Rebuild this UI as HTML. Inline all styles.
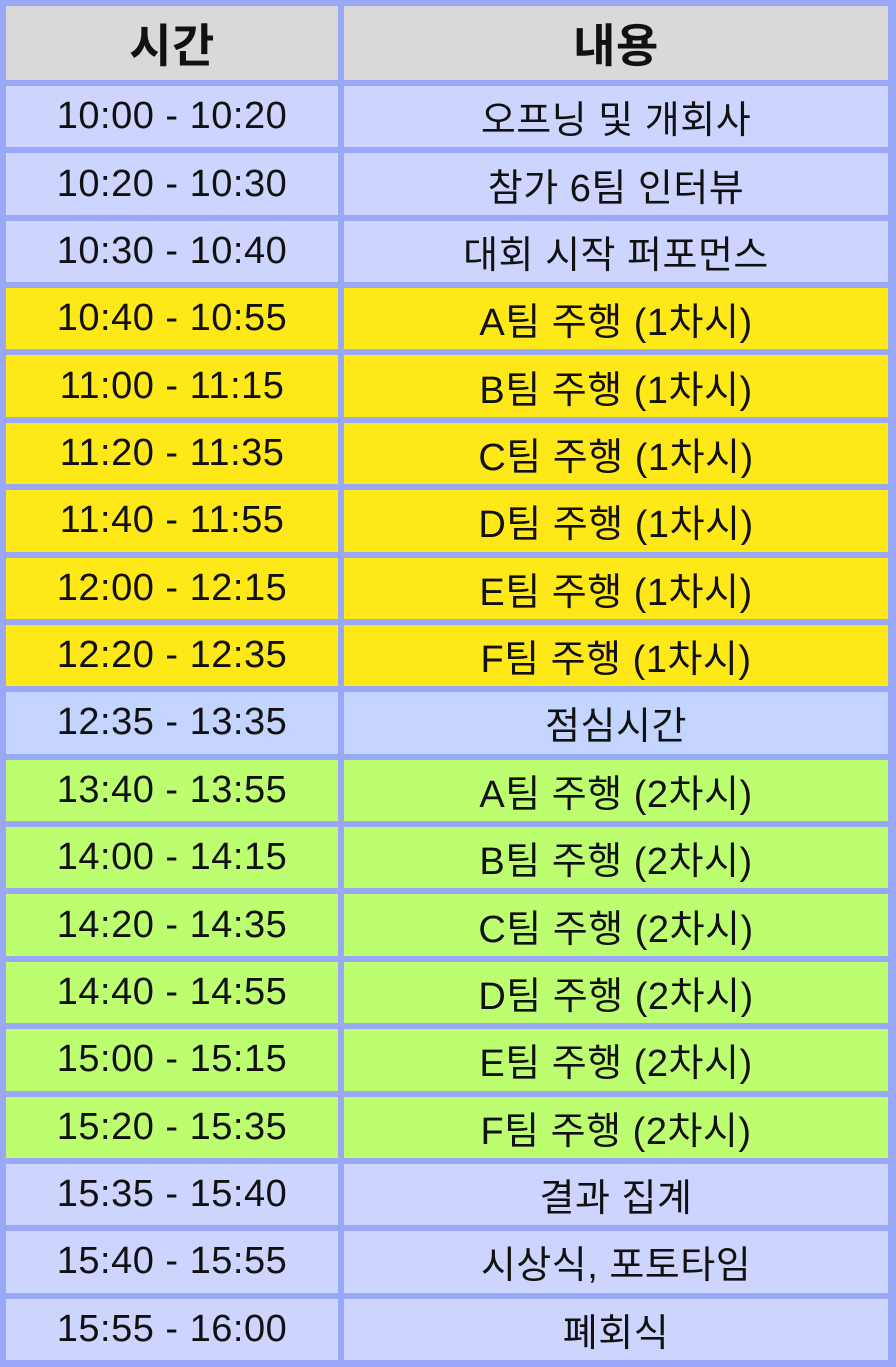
<!DOCTYPE html>
<html><head><meta charset="utf-8"><style>
html,body{margin:0;padding:0;}
body{width:896px;height:1367px;background:#9aa9f7;overflow:hidden;}
#t{position:absolute;left:6px;top:6px;width:882px;height:1354px;display:grid;grid-template-columns:332px 544px;grid-template-rows:74px repeat(19,1fr);gap:6px;}
.c{display:flex;align-items:center;justify-content:center;font-family:"Liberation Sans","Noto Sans CJK KR",sans-serif;font-size:38px;color:#111;letter-spacing:0.5px;}
.h{background:#d9d9d9;font-weight:bold;font-size:46px;}
.b{background:#cdd5fe;}.y{background:#ffe818;}.l{background:#c3d5fe;}.g{background:#bdfe70;}
</style></head><body>
<div id="t"></div>
<script>
const times=["10:00 - 10:20","10:20 - 10:30","10:30 - 10:40","10:40 - 10:55","11:00 - 11:15","11:20 - 11:35","11:40 - 11:55","12:00 - 12:15","12:20 - 12:35","12:35 - 13:35","13:40 - 13:55","14:00 - 14:15","14:20 - 14:35","14:40 - 14:55","15:00 - 15:15","15:20 - 15:35","15:35 - 15:40","15:40 - 15:55","15:55 - 16:00"];
const items=["오프닝 및 개회사","참가 6팀 인터뷰","대회 시작 퍼포먼스","A팀 주행 (1차시)","B팀 주행 (1차시)","C팀 주행 (1차시)","D팀 주행 (1차시)","E팀 주행 (1차시)","F팀 주행 (1차시)","점심시간","A팀 주행 (2차시)","B팀 주행 (2차시)","C팀 주행 (2차시)","D팀 주행 (2차시)","E팀 주행 (2차시)","F팀 주행 (2차시)","결과 집계","시상식, 포토타임","폐회식"];
const kinds=["b","b","b","y","y","y","y","y","y","l","g","g","g","g","g","g","b","b","b"];
const t=document.getElementById('t');
function cell(txt,cls,name){const d=document.createElement('div');d.className='c '+cls;d.textContent=txt;


t.appendChild(d);}
cell('시간','h','header-time');cell('내용','h','header-content');
for(let i=0;i<times.length;i++){cell(times[i],kinds[i],'time-cell');cell(items[i],kinds[i],'content-cell');}
</script>
</body></html>
